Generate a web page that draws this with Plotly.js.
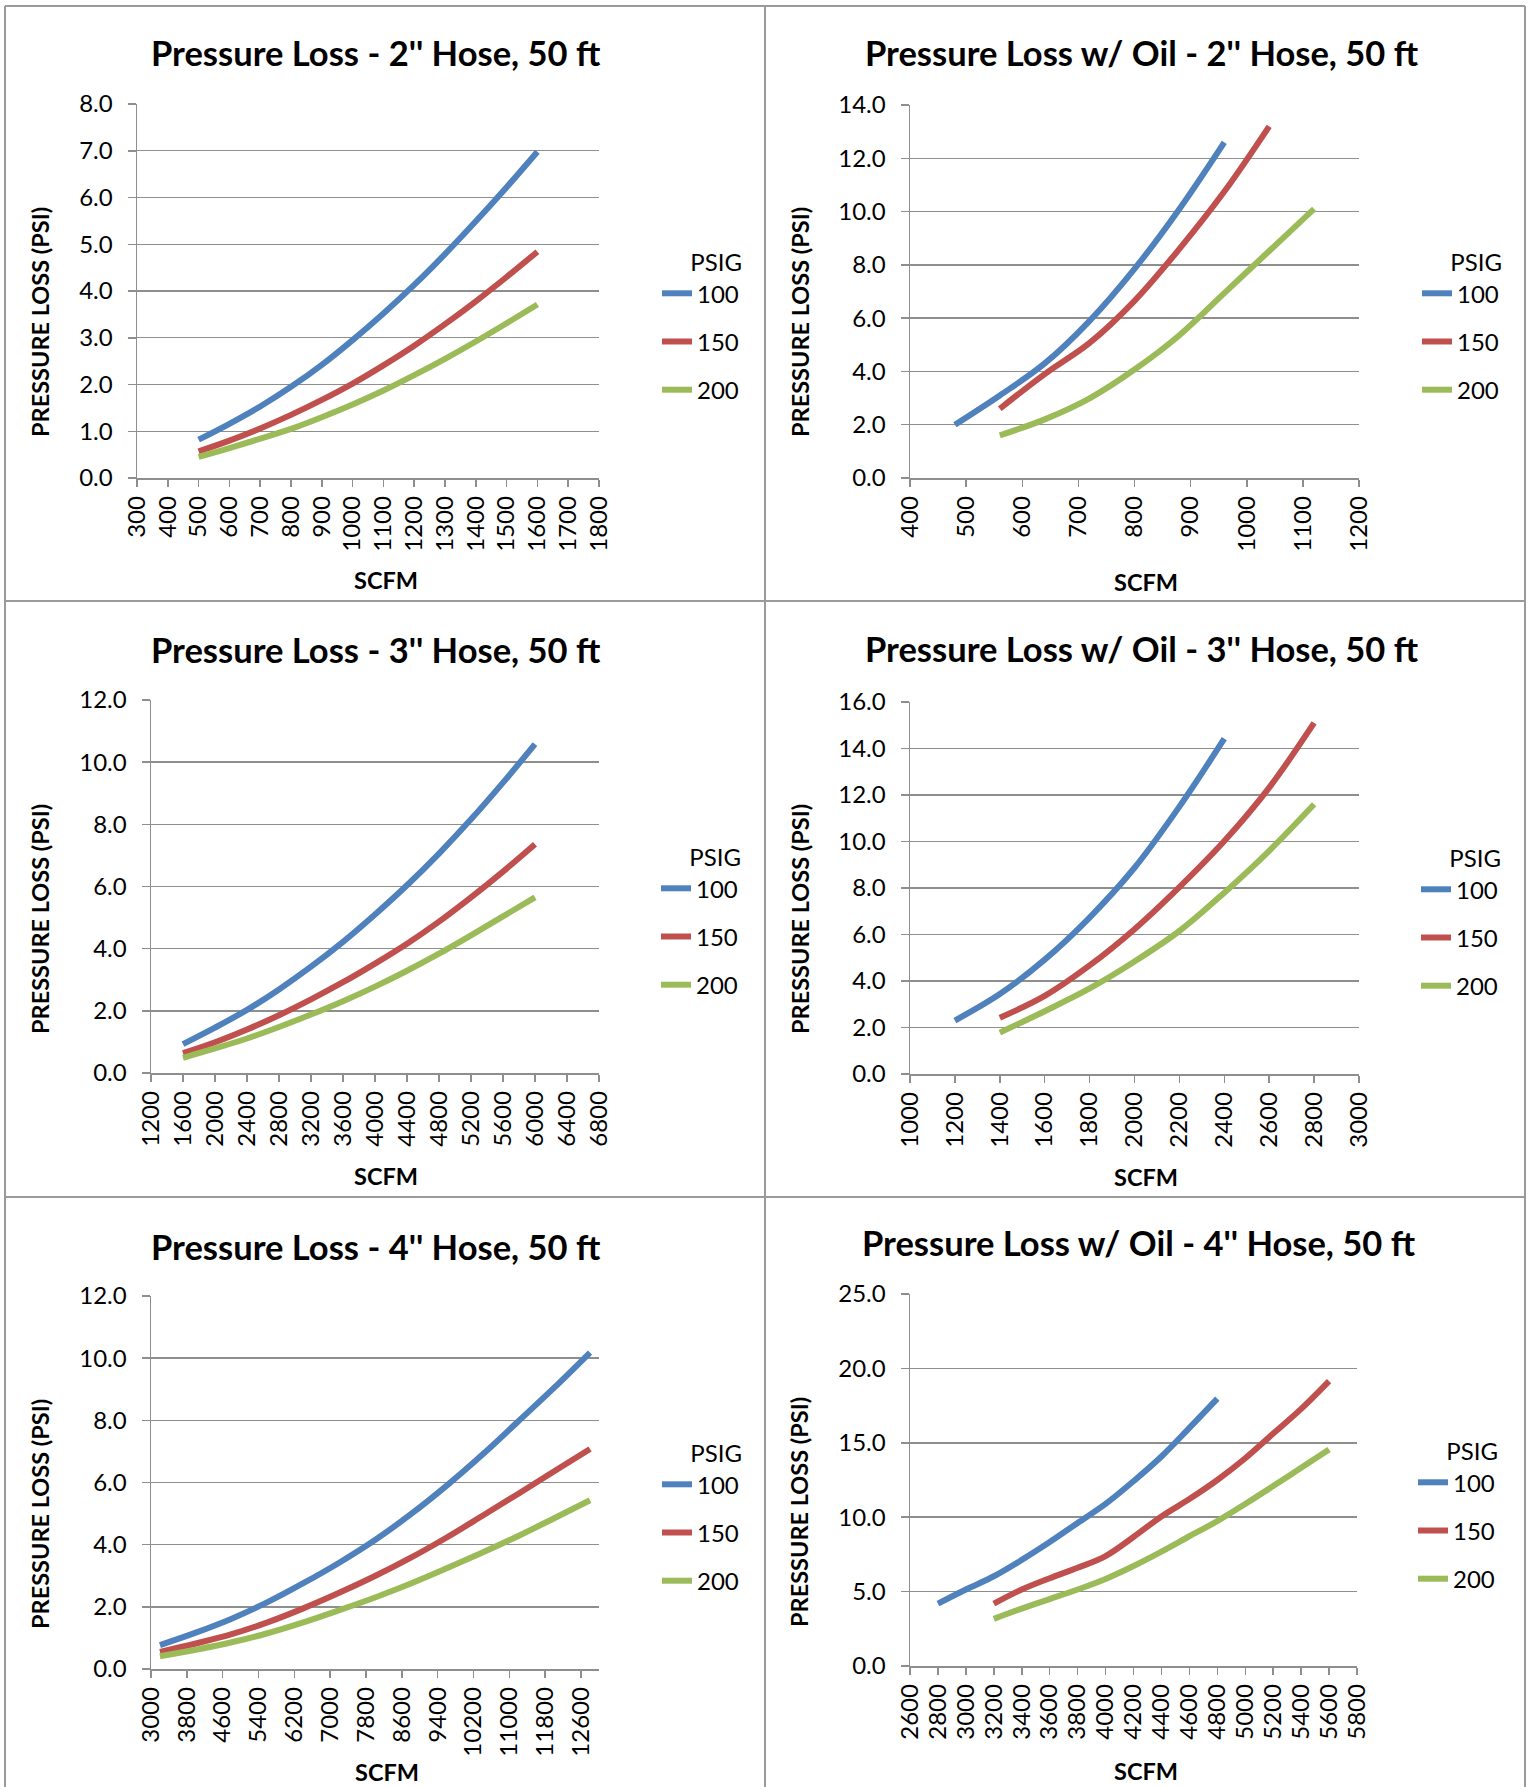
<!DOCTYPE html>
<html><head><meta charset="utf-8">
<script src="https://cdn.plot.ly/plotly-3.0.1.min.js"></script>
<style>html,body{margin:0;padding:0;background:#fff}#chart{width:1530px;height:1787px}</style>
</head><body><div id="chart"></div><script>
// ---------- data ----------
const psigLabels = ['100', '150', '200'];
const lineColors = ['#4F81BD', '#C0504D', '#9BBB59'];

// Pressure Loss - 2" Hose, 50 ft
const hose2_scfm = [500, 600, 700, 800, 900, 1000, 1100, 1200, 1300, 1400, 1500, 1600];
const hose2_p100 = [0.82, 1.16, 1.53, 1.95, 2.42, 2.95, 3.52, 4.13, 4.79, 5.49, 6.22, 6.98];
const hose2_p150 = [0.57, 0.80, 1.06, 1.35, 1.67, 2.02, 2.41, 2.83, 3.29, 3.78, 4.30, 4.84];
const hose2_p200 = [0.45, 0.64, 0.84, 1.05, 1.30, 1.57, 1.87, 2.20, 2.55, 2.92, 3.31, 3.71];

// Pressure Loss w/ Oil - 2" Hose, 50 ft
const oil2_scfm100 = [480, 560, 640, 720, 800, 880, 960];
const oil2_p100 = [2.0, 3.1, 4.3, 5.9, 7.85, 10.1, 12.6];
const oil2_scfm150 = [560, 640, 720, 800, 880, 960, 1040];
const oil2_p150 = [2.6, 3.9, 5.07, 6.65, 8.6, 10.75, 13.2];
const oil2_scfm200 = [560, 640, 720, 800, 880, 960, 1040, 1120];
const oil2_p200 = [1.6, 2.2, 2.99, 4.07, 5.36, 6.94, 8.52, 10.1];

// Pressure Loss - 3" Hose, 50 ft
const hose3_scfm = [1600, 2000, 2400, 2800, 3200, 3600, 4000, 4400, 4800, 5200, 5600, 6000];
const hose3_p100 = [0.93, 1.46, 2.03, 2.69, 3.42, 4.22, 5.10, 6.04, 7.06, 8.16, 9.34, 10.58];
const hose3_p150 = [0.64, 0.99, 1.40, 1.86, 2.37, 2.92, 3.52, 4.16, 4.87, 5.65, 6.48, 7.36];
const hose3_p200 = [0.49, 0.79, 1.11, 1.48, 1.88, 2.31, 2.78, 3.29, 3.84, 4.43, 5.04, 5.65];

// Pressure Loss w/ Oil - 3" Hose, 50 ft
const oil3_scfm100 = [1200, 1400, 1600, 1800, 2000, 2200, 2400];
const oil3_p100 = [2.3, 3.44, 4.92, 6.73, 8.87, 11.5, 14.42];
const oil3_scfm150 = [1400, 1600, 1800, 2000, 2200, 2400, 2600, 2800];
const oil3_p150 = [2.42, 3.36, 4.67, 6.23, 8.04, 10.02, 12.32, 15.1];
const oil3_scfm200 = [1400, 1600, 1800, 2000, 2200, 2400, 2600, 2800];
const oil3_p200 = [1.78, 2.7, 3.68, 4.84, 6.15, 7.8, 9.6, 11.6];

// Pressure Loss - 4" Hose, 50 ft
const hose4_scfm = [3200, 4000, 4800, 5600, 6400, 7200, 8000, 8800, 9600, 10400, 11200, 12000, 12800];
const hose4_p100 = [0.77, 1.17, 1.62, 2.15, 2.76, 3.42, 4.15, 4.98, 5.90, 6.90, 7.97, 9.05, 10.18];
const hose4_p150 = [0.55, 0.82, 1.12, 1.50, 1.95, 2.45, 2.99, 3.58, 4.23, 4.93, 5.64, 6.36, 7.08];
const hose4_p200 = [0.41, 0.62, 0.86, 1.15, 1.50, 1.89, 2.30, 2.75, 3.24, 3.75, 4.28, 4.85, 5.43];

// Pressure Loss w/ Oil - 4" Hose, 50 ft
const oil4_scfm100 = [2800, 3000, 3200, 3400, 3600, 3800, 4000, 4200, 4400, 4600, 4800];
const oil4_p100 = [4.19, 5.14, 6.03, 7.13, 8.33, 9.61, 10.89, 12.42, 14.08, 16.0, 17.97];
const oil4_scfm150 = [3200, 3400, 3600, 3800, 4000, 4200, 4400, 4600, 4800, 5000, 5200, 5400, 5600];
const oil4_p150 = [4.19, 5.14, 5.9, 6.6, 7.39, 8.67, 10.05, 11.22, 12.5, 13.96, 15.62, 17.28, 19.15];
const oil4_scfm200 = [3200, 3400, 3600, 3800, 4000, 4200, 4400, 4600, 4800, 5000, 5200, 5400, 5600];
const oil4_p200 = [3.17, 3.86, 4.5, 5.14, 5.85, 6.72, 7.69, 8.72, 9.74, 10.89, 12.09, 13.32, 14.55];

const chartTitles = [
  'Pressure Loss - 2\'\' Hose, 50 ft',
  'Pressure Loss w/ Oil - 2\'\' Hose, 50 ft',
  'Pressure Loss - 3\'\' Hose, 50 ft',
  'Pressure Loss w/ Oil - 3\'\' Hose, 50 ft',
  'Pressure Loss - 4\'\' Hose, 50 ft',
  'Pressure Loss w/ Oil - 4\'\' Hose, 50 ft'
];
const xAxisTitle = 'SCFM';
const yAxisTitle = 'PRESSURE LOSS (PSI)';
const legendTitle = 'PSIG';

// ---------- layout constants (pixels) ----------
const W = 1530, H = 1787;
const FONT = 'Lato, "Open Sans", "DejaVu Sans", sans-serif';
const GRID = '#8e8e8e';

const panels = [
  { xs: [hose2_scfm, hose2_scfm, hose2_scfm], ys: [hose2_p100, hose2_p150, hose2_p200],
    xr: [300, 1800], x0: 300, dx: 100, yr: [0, 8], dy: 1,
    box: [137, 599, 104, 478], title: [376, 53], yt: [40, 322], xt: [386, 580], leg: [697, 292] },
  { xs: [oil2_scfm100, oil2_scfm150, oil2_scfm200], ys: [oil2_p100, oil2_p150, oil2_p200],
    xr: [400, 1200], x0: 400, dx: 100, yr: [0, 14], dy: 2,
    box: [910, 1359, 105, 478], title: [1142, 53], yt: [800, 322], xt: [1146, 582], leg: [1457, 292] },
  { xs: [hose3_scfm, hose3_scfm, hose3_scfm], ys: [hose3_p100, hose3_p150, hose3_p200],
    xr: [1200, 6800], x0: 1200, dx: 400, yr: [0, 12], dy: 2,
    box: [151, 599, 700, 1073], title: [376, 650], yt: [40, 919], xt: [386, 1176], leg: [696, 887] },
  { xs: [oil3_scfm100, oil3_scfm150, oil3_scfm200], ys: [oil3_p100, oil3_p150, oil3_p200],
    xr: [1000, 3000], x0: 1000, dx: 200, yr: [0, 16], dy: 2,
    box: [910, 1359, 702, 1074], title: [1142, 649], yt: [800, 919], xt: [1146, 1177], leg: [1456, 888] },
  { xs: [hose4_scfm, hose4_scfm, hose4_scfm], ys: [hose4_p100, hose4_p150, hose4_p200],
    xr: [3000, 13000], x0: 3000, dx: 800, yr: [0, 12], dy: 2,
    box: [151, 599, 1296, 1669], title: [376, 1246], yt: [40, 1514], xt: [387, 1772], leg: [697, 1483] },
  { xs: [oil4_scfm100, oil4_scfm150, oil4_scfm200], ys: [oil4_p100, oil4_p150, oil4_p200],
    xr: [2600, 5800], x0: 2600, dx: 200, yr: [0, 25], dy: 5,
    box: [910, 1357, 1294, 1666], title: [1139, 1242], yt: [799, 1512], xt: [1146, 1771], leg: [1453, 1481] }
];

const px = v => v / W;
const py = v => 1 - v / H;

const data = [];
const layout = {
  width: W, height: H,
  margin: { l: 0, r: 0, t: 0, b: 0 },
  paper_bgcolor: '#ffffff', plot_bgcolor: '#ffffff',
  font: { family: FONT, size: 24, color: '#000000' },
  showlegend: true,
  annotations: [], shapes: []
};

panels.forEach((p, i) => {
  const n = i + 1;
  const xa = n === 1 ? 'x' : 'x' + n;
  const ya = n === 1 ? 'y' : 'y' + n;
  const legKey = n === 1 ? 'legend' : 'legend' + n;
  for (let s = 0; s < 3; s++) {
    data.push({
      type: 'scatter', mode: 'lines',
      x: p.xs[s], y: p.ys[s],
      name: psigLabels[s],
      line: { color: lineColors[s], width: 6, shape: 'spline', smoothing: 1 },
      xaxis: xa, yaxis: ya, legend: legKey, legendgroup: 'g' + n + '_' + s,
      hoverinfo: 'skip'
    });
  }
  const axCommon = {
    showline: true, linecolor: GRID, linewidth: 1.5,
    ticks: 'outside', tickcolor: GRID, tickwidth: 1.5,
    zeroline: false, fixedrange: true,
    tickfont: { family: FONT, size: 24, color: '#000' }
  };
  layout[n === 1 ? 'xaxis' : 'xaxis' + n] = Object.assign({}, axCommon, {
    domain: [px(p.box[0]), px(p.box[1])], anchor: ya,
    range: p.xr, tickmode: 'linear', tick0: p.x0, dtick: p.dx, tickformat: 'd',
    showgrid: false, tickangle: -90, ticklen: 7, ticklabelstandoff: 0
  });
  layout[n === 1 ? 'yaxis' : 'yaxis' + n] = Object.assign({}, axCommon, {
    domain: [py(p.box[3]), py(p.box[2])], anchor: xa,
    range: p.yr, tickmode: 'linear', tick0: 0, dtick: p.dy, tickformat: '.1f',
    showgrid: true, gridcolor: GRID, gridwidth: 1.4, ticklen: 8, ticklabelstandoff: 10
  });
  layout[legKey] = {
    x: px(p.leg[0] - 40), xanchor: 'left',
    y: py(p.leg[1] - 52), yanchor: 'top',
    bgcolor: 'rgba(0,0,0,0)', borderwidth: 0,
    traceorder: 'grouped', tracegroupgap: 14, itemwidth: 30,
    font: { family: FONT, size: 24, color: '#000' },
    title: { text: legendTitle, side: 'top right', font: { family: FONT, size: 24, color: '#000' } }
  };
  layout.annotations.push({
    xref: 'paper', yref: 'paper', x: px(p.title[0]), y: py(p.title[1]),
    xanchor: 'center', yanchor: 'middle', showarrow: false,
    text: '<b>' + chartTitles[i] + '</b>',
    font: { family: FONT, size: 34.5, color: '#000' }
  });
  layout.annotations.push({
    xref: 'paper', yref: 'paper', x: px(p.yt[0]), y: py(p.yt[1]),
    xanchor: 'center', yanchor: 'middle', showarrow: false, textangle: -90,
    text: '<b>' + yAxisTitle + '</b>',
    font: { family: FONT, size: 23.5, color: '#000' }
  });
  layout.annotations.push({
    xref: 'paper', yref: 'paper', x: px(p.xt[0]), y: py(p.xt[1]),
    xanchor: 'center', yanchor: 'middle', showarrow: false,
    text: '<b>' + xAxisTitle + '</b>',
    font: { family: FONT, size: 23.5, color: '#000' }
  });
});

// panel frames
const BORDER = { color: '#9a9a9a', width: 2 };
[5, 765, 1525].forEach(xv => layout.shapes.push({
  type: 'line', xref: 'paper', yref: 'paper', x0: px(xv), x1: px(xv), y0: py(6), y1: py(H), line: BORDER }));
[6, 601, 1197].forEach(yv => layout.shapes.push({
  type: 'line', xref: 'paper', yref: 'paper', x0: px(5), x1: px(1525), y0: py(yv), y1: py(yv), line: BORDER }));

Plotly.newPlot('chart', data, layout, { staticPlot: true, displayModeBar: false });
</script></body></html>
